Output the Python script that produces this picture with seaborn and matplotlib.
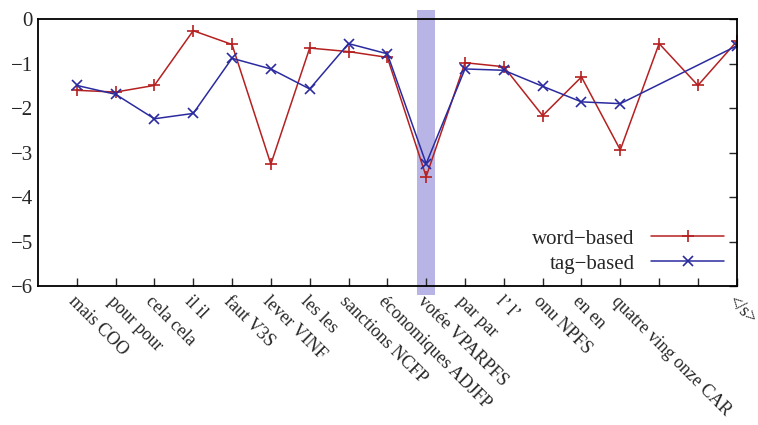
import numpy as np
import pandas as pd
import matplotlib.pyplot as plt
import seaborn as sns

labels = ['mais COO', 'pour pour', 'cela cela', 'il il', 'faut V3S', 'lever VINF',
          'les les', 'sanctions NCFP', 'économiques ADJFP', 'votée VPARPFS',
          'par par', 'l\u2019 l\u2019', 'onu NPFS', 'en en', 'quatre ving onze CAR',
          '', '', '</s>']
word_x = list(range(18))
word_y = [-1.60, -1.64, -1.49, -0.26, -0.57, -3.26, -0.65, -0.73, -0.86, -3.54,
          -0.98, -1.07, -2.17, -1.30, -2.94, -0.55, -1.49, -0.50]
tag_x = list(range(15)) + [17]
tag_y = [-1.49, -1.69, -2.24, -2.12, -0.88, -1.12, -1.57, -0.55, -0.78, -3.25,
         -1.12, -1.15, -1.51, -1.86, -1.90, -0.60]
highlight = 9

sns.set_style('white')
plt.rcParams['font.family'] = ['Liberation Serif', 'DejaVu Serif']
plt.rcParams['axes.unicode_minus'] = True

fig = plt.figure(figsize=(7.58, 4.25), dpi=100)
ax = fig.add_axes([0.050, 0.327, 0.922, 0.628])

ax.axvspan(highlight - 0.24, highlight + 0.24, ymin=-0.035, ymax=1.035,
           color='#b8b5e6', lw=0, clip_on=False, zorder=0)

red = '#b52020'
blue = '#2b2ba0'
sns.lineplot(x=word_x, y=word_y, ax=ax, color=red, marker='+', markersize=9,
             markeredgewidth=1.2, markeredgecolor=red, lw=1.1, label='word\u2212based')
sns.lineplot(x=tag_x, y=tag_y, ax=ax, color=blue, marker='x', markersize=7,
             markeredgewidth=1.2, markeredgecolor=blue, lw=1.1, label='tag\u2212based')

ax.set_xlim(-1, 17)
ax.set_ylim(-6, 0)
ax.set_xticks(word_x)
ax.set_xticklabels(labels, rotation=-45, ha='left', va='top', rotation_mode='anchor',
                   fontsize=13)
ax.set_yticks(range(-6, 1))
ax.tick_params(axis='y', labelsize=15, direction='in', right=True, length=6, width=1)
ax.tick_params(axis='x', direction='in', bottom=True, length=6, width=1, pad=5)
for s in ax.spines.values():
    s.set_linewidth(1.3)
    s.set_color('black')

leg = ax.legend(loc='lower right', frameon=False, markerfirst=False, fontsize=15,
                handlelength=3.5, borderaxespad=0.2, labelspacing=0.25)
for t in leg.get_texts():
    t.set_ha('right')

plt.savefig('out.png', dpi=100)
